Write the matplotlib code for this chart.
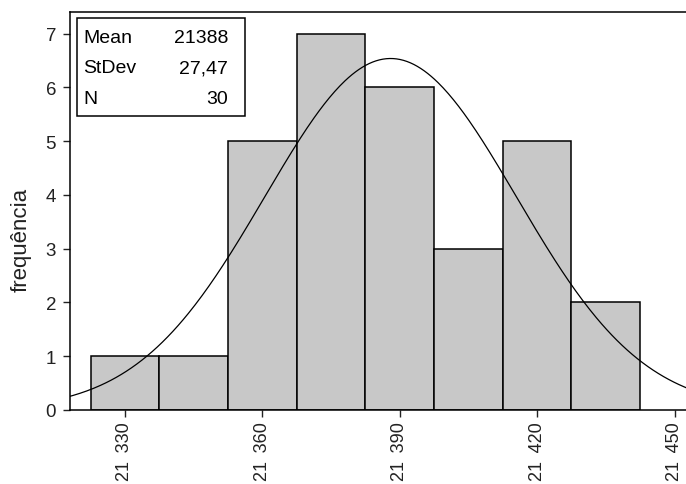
import numpy as np
import matplotlib
matplotlib.use("Agg")
import matplotlib.pyplot as plt
from matplotlib.patches import Rectangle
from matplotlib.ticker import FuncFormatter

plt.rcParams['font.family'] = ['Liberation Sans', 'DejaVu Sans']

# histogram bins (centres) and counts
bin_centres = [21330, 21345, 21360, 21375, 21390, 21405, 21420, 21435]
counts = [1, 1, 5, 7, 6, 3, 5, 2]
bin_width = 15

# summary statistics
mean = 21388
stdev = 27.47
n = 30

xticks = [21330, 21360, 21390, 21420, 21450]
yticks = [0, 1, 2, 3, 4, 5, 6, 7]

fig = plt.figure(figsize=(6.86, 4.85), dpi=100)
ax = fig.add_axes([0.102, 0.1526, 0.898, 0.8206])

ax.bar(bin_centres, counts, width=bin_width, color='#c8c8c8',
       edgecolor='black', linewidth=1.1, zorder=2)

# fitted normal curve, scaled to counts
xs = np.linspace(21310, 21460, 400)
pdf = np.exp(-0.5 * ((xs - mean) / stdev) ** 2) / (stdev * np.sqrt(2 * np.pi))
ax.plot(xs, pdf * n * bin_width, color='black', linewidth=0.9, zorder=3)

ax.set_xlim(21318, 21452.5)
ax.set_ylim(0, 7.4)
ax.set_xticks(xticks)
ax.set_yticks(yticks)
ax.xaxis.set_major_formatter(FuncFormatter(lambda v, p: f"{int(v):,}".replace(",", "\u2009 ")))
ax.tick_params(axis='x', rotation=90, labelsize=13, length=5, width=1, colors='#222222', pad=3)
ax.tick_params(axis='y', labelsize=13.5, length=5, width=1, colors='#222222', pad=5)
ax.spines['right'].set_visible(False)
for s in ['left', 'top', 'bottom']:
    ax.spines[s].set_linewidth(1.1)
ax.set_ylabel('frequência', fontsize=16, color='#222222')
ax.yaxis.set_label_coords(-0.062, 0.43)

# stats box
ax.add_patch(Rectangle((0.011, 0.739), 0.273, 0.245, transform=ax.transAxes,
                       facecolor='white', edgecolor='black', linewidth=1.1, zorder=4))
rows = [("Mean", f"{mean}"), ("StDev", f"{stdev:.2f}".replace(".", ",")), ("N", f"{n}")]
for i, (lab, val) in enumerate(rows):
    y = 0.937 - i * 0.077
    ax.text(0.021, y, lab, transform=ax.transAxes, fontsize=14, va='center', ha='left', zorder=5)
    ax.text(0.2565, y, val, transform=ax.transAxes, fontsize=14, va='center', ha='right', zorder=5)

fig.savefig("out.png", dpi=100)
